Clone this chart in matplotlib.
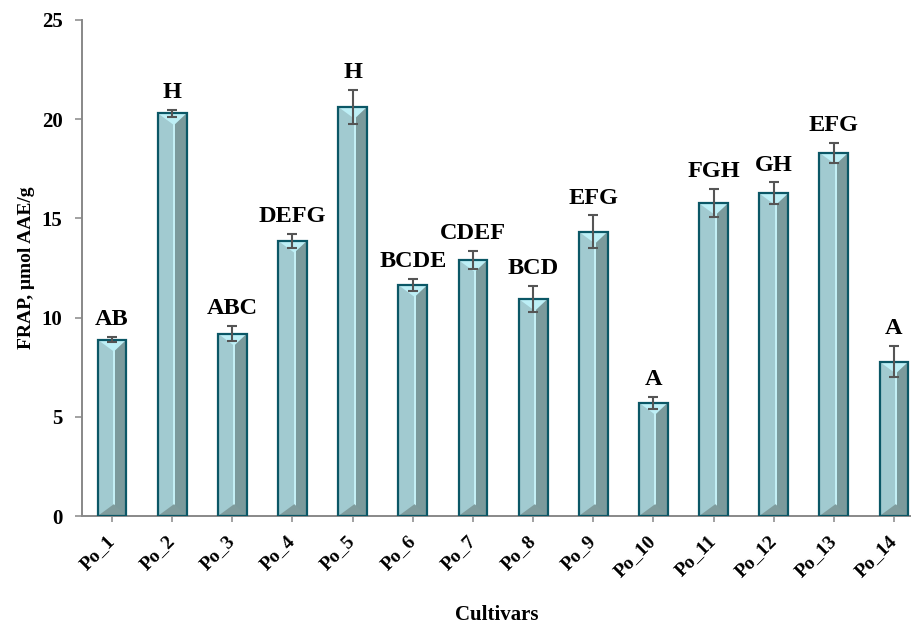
import numpy as np
import matplotlib.pyplot as plt
from matplotlib.patches import Polygon, Rectangle

cultivars = ['Po_1', 'Po_2', 'Po_3', 'Po_4', 'Po_5', 'Po_6', 'Po_7',
             'Po_8', 'Po_9', 'Po_10', 'Po_11', 'Po_12', 'Po_13', 'Po_14']
frap = [8.89, 20.30, 9.19, 13.87, 20.62, 11.64, 12.90,
        10.94, 14.33, 5.71, 15.76, 16.26, 18.31, 7.78]
frap_sd = [0.14, 0.17, 0.37, 0.34, 0.84, 0.29, 0.47,
           0.64, 0.82, 0.31, 0.71, 0.55, 0.50, 0.77]
groups = ['AB', 'H', 'ABC', 'DEFG', 'H', 'BCDE', 'CDEF',
          'BCD', 'EFG', 'A', 'FGH', 'GH', 'EFG', 'A']

plt.rcParams['font.family'] = ['Liberation Serif', 'DejaVu Serif']
plt.rcParams['font.weight'] = 'bold'

fig = plt.figure(figsize=(9.12, 6.24), dpi=100)
ax = fig.add_axes([0.0899, 0.173, 0.9101, 0.795])

x = np.arange(len(cultivars))
w = 0.48
edge = '#0b5766'

bars = ax.bar(x, frap, width=w, color='#a1cad0', edgecolor='none', zorder=2)

# bevelled look: dark right face, light strip, top and bottom facets
d = 0.6
for b in bars:
    x0 = b.get_x()
    x1 = x0 + b.get_width()
    xc = x0 + b.get_width() / 2
    h = b.get_height()
    ax.add_patch(Rectangle((xc + 0.05, 0), x1 - xc - 0.05, h,
                           facecolor='#7b9a9c', edgecolor='none', zorder=2.1))
    ax.add_patch(Rectangle((xc + 0.017, 0), 0.033, h,
                           facecolor='#c3eff5', edgecolor='none', zorder=2.1))
    ax.add_patch(Polygon([(x0, h), (x1, h), (xc + 0.03, h - d)],
                         facecolor='#bdeff6', edgecolor='none', zorder=2.2))
    ax.add_patch(Polygon([(x0, 0), (x1, 0), (xc + 0.03, d)],
                         facecolor='#7f9c9d', edgecolor='none', zorder=2.2))

ax.bar(x, frap, width=w, fill=False, edgecolor=edge, linewidth=1.6, zorder=3)

ax.errorbar(x, frap, yerr=frap_sd, fmt='none', ecolor='#555555',
            elinewidth=1.5, capsize=3.5, capthick=1.5, zorder=5)

for xi, v, e, g in zip(x, frap, frap_sd, groups):
    ax.text(xi, v + e + 0.6, g, ha='center', va='baseline',
            fontsize=17.5, fontweight='bold')

ax.set_xlim(-0.5, 13.3)
ax.set_ylim(0, 25)
ax.set_yticks([0, 5, 10, 15, 20, 25])
ax.set_xticks(x)
ax.set_xticklabels(cultivars, rotation=45, ha='right', va='center',
                   rotation_mode='anchor', fontsize=14, fontweight='bold')
ax.tick_params(axis='y', labelsize=15, length=5, width=1.1, color='#888888', pad=9)
ax.tick_params(axis='x', length=4, width=1.1, color='#888888', pad=12)

for s in ['top', 'right']:
    ax.spines[s].set_visible(False)
for s in ['left', 'bottom']:
    ax.spines[s].set_color('#888888')
    ax.spines[s].set_linewidth(1.4)

ax.set_ylabel('FRAP, μmol AAE/g', fontsize=14, fontweight='bold', labelpad=5)
ax.set_xlabel('Cultivars', fontsize=15, fontweight='bold', labelpad=18)

fig.savefig('out.png', dpi=100)
